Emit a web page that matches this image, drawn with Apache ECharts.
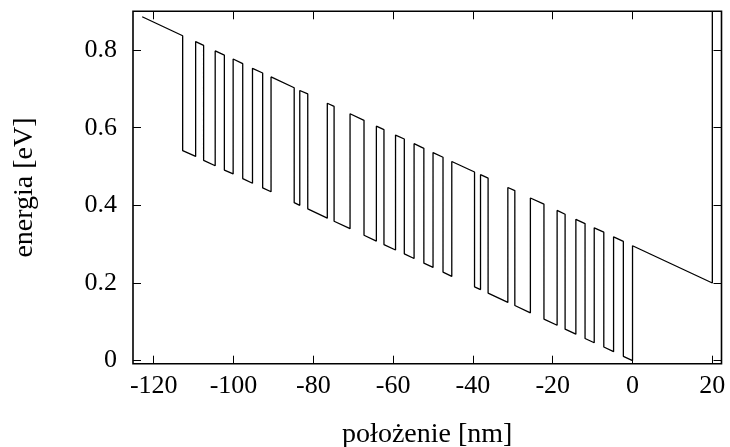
<!DOCTYPE html>
<html>
<head>
<meta charset="utf-8">
<script src="https://cdn.jsdelivr.net/npm/echarts@6/dist/echarts.min.js"></script>
<style>
html,body{margin:0;padding:0;background:#fff;}
#chart{width:730px;height:447px;}
</style>
</head>
<body>
<div id="chart"></div>
<script>
// Positions of the profile vertices [nm] and the energy at each vertex [eV]
var posNm = [
  -122.9,
  -112.75, -112.75, -109.5, -109.5, -107.5, -107.5, -104.6, -104.6,
  -102.3, -102.3, -100.1, -100.1, -97.7, -97.7, -95.25, -95.25,
  -92.7, -92.7, -90.6, -90.6, -84.8, -84.8, -83.4, -83.4,
  -81.4, -81.4, -76.5, -76.5, -74.8, -74.8, -70.8, -70.8,
  -67.3, -67.3, -64.2, -64.2, -62.3, -62.3, -59.4, -59.4,
  -57.2, -57.2, -54.75, -54.75, -52.3, -52.3, -50, -50,
  -47.5, -47.5, -45.3, -45.3, -39.6, -39.6, -38.1, -38.1,
  -36.2, -36.2, -31.25, -31.25, -29.5, -29.5, -25.6, -25.6,
  -22.2, -22.2, -18.9, -18.9, -16.9, -16.9, -14.2, -14.2,
  -11.9, -11.9, -9.6, -9.6, -7.2, -7.2, -4.75, -4.75,
  -2.3, -2.3, 0, 0,
  20, 20
];
var energyEv = [
  0.886,
  0.837, 0.541, 0.526, 0.822, 0.812, 0.516, 0.502, 0.798,
  0.787, 0.491, 0.481, 0.777, 0.765, 0.469, 0.457, 0.753,
  0.741, 0.445, 0.435, 0.731, 0.703, 0.407, 0.400, 0.696,
  0.687, 0.391, 0.367, 0.663, 0.655, 0.359, 0.340, 0.636,
  0.619, 0.323, 0.308, 0.604, 0.595, 0.299, 0.285, 0.581,
  0.571, 0.275, 0.263, 0.559, 0.547, 0.251, 0.240, 0.536,
  0.524, 0.228, 0.217, 0.513, 0.486, 0.190, 0.183, 0.479,
  0.470, 0.174, 0.150, 0.446, 0.438, 0.142, 0.123, 0.419,
  0.403, 0.107, 0.091, 0.387, 0.377, 0.081, 0.068, 0.364,
  0.353, 0.057, 0.046, 0.342, 0.331, 0.035, 0.023, 0.319,
  0.307, 0.011, 0.000, 0.296,
  0.200, 0.900
];
var xTicks = [-120, -100, -80, -60, -40, -20, 0, 20];
var yTicks = [0, 0.2, 0.4, 0.6, 0.8];
var xTitle = 'położenie [nm]';
var yTitle = 'energia [eV]';

var lineData = posNm.map(function (x, i) { return [x, energyEv[i]]; });

var font = 'Liberation Serif';
var xMin = -125.2, xMax = 22.3, yMin = -0.008, yMax = 0.9;

function mkX(pos, showLabel, name) {
  return {
    type: 'value', position: pos, min: xMin, max: xMax,
    name: name || '', nameLocation: 'middle', nameGap: 57,
    nameTextStyle: {fontFamily: font, fontSize: 28, color: '#000'},
    axisLine: {show: false, onZero: false},
    splitLine: {show: false},
    axisTick: {show: true, inside: true, length: 8, customValues: xTicks,
               lineStyle: {color: '#000', width: 1}},
    axisLabel: {show: showLabel, customValues: xTicks, margin: 9,
                fontFamily: font, fontSize: 26, color: '#000'}
  };
}
function mkY(pos, showLabel, name) {
  return {
    type: 'value', position: pos, min: yMin, max: yMax,
    name: name || '', nameLocation: 'middle', nameGap: 94,
    nameTextStyle: {fontFamily: font, fontSize: 28, color: '#000'},
    axisLine: {show: false, onZero: false},
    splitLine: {show: false},
    axisTick: {show: true, inside: true, length: 8, customValues: yTicks,
               lineStyle: {color: '#000', width: 1}},
    axisLabel: {show: showLabel, customValues: yTicks, margin: 16,
                fontFamily: font, fontSize: 26, color: '#000'}
  };
}

var chart = echarts.init(document.getElementById('chart'), null, {renderer: 'canvas'});
chart.setOption({
  animation: false,
  backgroundColor: '#fff',
  grid: {left: 133, right: 8.5, top: 11.3, bottom: 83.3, show: true,
         outerBoundsMode: 'none', containLabel: false,
         borderColor: '#000', borderWidth: 1.6, backgroundColor: 'transparent'},
  xAxis: [mkX('bottom', true, xTitle), mkX('top', false)],
  yAxis: [mkY('left', true, yTitle), mkY('right', false)],
  series: [{
    type: 'line', xAxisIndex: 0, yAxisIndex: 0,
    data: lineData, showSymbol: false, symbol: 'none',
    lineStyle: {color: '#000', width: 1.3}, clip: true
  }]
});
</script>
</body>
</html>
